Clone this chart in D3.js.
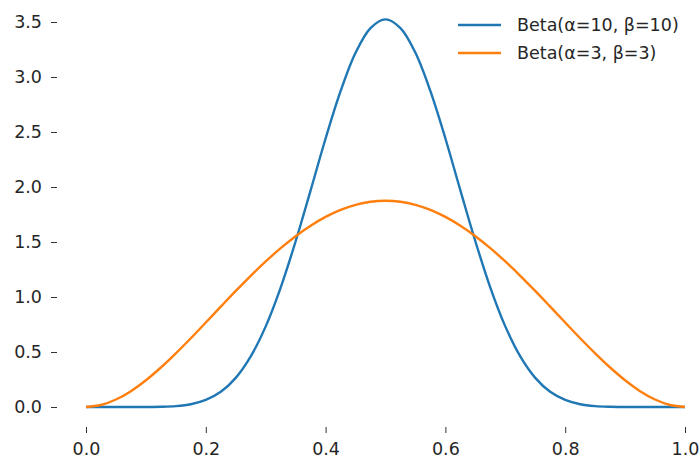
<!DOCTYPE html>
<html>
<head>
<meta charset="utf-8">
<script src="https://cdn.jsdelivr.net/npm/d3@7"></script>
<style>
  body { margin: 0; background: #fff; }
  svg text { font-family: "DejaVu Sans", sans-serif; }
</style>
</head>
<body>
<script>
var w = 700,
    h = 459;

// x positions of the sampled points
var xs = [0, 0.025, 0.05, 0.075, 0.1, 0.125, 0.15, 0.175, 0.2, 0.225, 0.25,
          0.275, 0.3, 0.325, 0.35, 0.375, 0.4, 0.425, 0.45, 0.475, 0.5,
          0.525, 0.55, 0.575, 0.6, 0.625, 0.65, 0.675, 0.7, 0.725, 0.75,
          0.775, 0.8, 0.825, 0.85, 0.875, 0.9, 0.925, 0.95, 0.975, 1];

// density, Beta(10,10)
var beta10 = [0, 0, 0, 0, 0.0004, 0.002, 0.008, 0.025, 0.064, 0.138, 0.265,
              0.46, 0.733, 1.086, 1.507, 1.97, 2.441, 2.871, 3.22, 3.445, 3.524,
              3.445, 3.22, 2.871, 2.441, 1.97, 1.507, 1.086, 0.733, 0.46, 0.265,
              0.138, 0.064, 0.025, 0.008, 0.002, 0.0004, 0, 0, 0, 0];

// density, Beta(3,3)
var beta3 = [0, 0.018, 0.068, 0.144, 0.243, 0.359, 0.488, 0.625, 0.768, 0.912, 1.055,
             1.193, 1.323, 1.444, 1.553, 1.648, 1.728, 1.792, 1.838, 1.866, 1.875,
             1.866, 1.838, 1.792, 1.728, 1.648, 1.553, 1.444, 1.323, 1.193, 1.055,
             0.912, 0.768, 0.625, 0.488, 0.359, 0.243, 0.144, 0.068, 0.018, 0];

var xTicks = [0, 0.2, 0.4, 0.6, 0.8, 1.0];
var yTicks = [0, 0.5, 1.0, 1.5, 2.0, 2.5, 3.0, 3.5];

var names = ["Beta(α=10, β=10)", "Beta(α=3, β=3)"];
var colors = ["#1f77b4", "#ff7f0e"];

var svg = d3.select("body").append("svg")
    .attr("width", w)
    .attr("height", h);

var x = d3.scaleLinear().domain([0, 1]).range([86, 685]);
var y = d3.scaleLinear().domain([0, 3.5]).range([407, 22]);

// axes: spines hidden, only ticks and labels
var xAxis = svg.append("g")
    .attr("transform", "translate(0,427)")
    .call(d3.axisBottom(x).tickValues(xTicks).tickFormat(d3.format(".1f"))
      .tickSize(6).tickPadding(10));

var yAxis = svg.append("g")
    .attr("transform", "translate(57,0)")
    .call(d3.axisLeft(y).tickValues(yTicks).tickFormat(d3.format(".1f"))
      .tickSize(6).tickPadding(9));

[xAxis, yAxis].forEach(function(g){
  g.select(".domain").remove();
  g.selectAll("line").attr("stroke", "#333").attr("stroke-width", 1);
  g.selectAll("text").attr("fill", "#262626").style("font-size", "17.5px");
});

var line = d3.line()
    .x(function(d){ return x(d[0]); })
    .y(function(d){ return y(d[1]); })
    .curve(d3.curveCatmullRom);

var series = [beta10, beta3];

svg.selectAll("path.curve")
    .data(series)
  .enter().append("path")
    .attr("class", "curve")
    .attr("fill", "none")
    .attr("stroke", function(d, i){ return colors[i]; })
    .attr("stroke-width", 2.4)
    .attr("stroke-linejoin", "round")
    .attr("d", function(d){ return line(d.map(function(v, i){ return [xs[i], v]; })); });

// legend
var legend = svg.selectAll("g.legend")
    .data(names)
  .enter().append("g")
    .attr("class", "legend")
    .attr("transform", function(d, i){ return "translate(458," + (25 + i * 28) + ")"; });

legend.append("line")
    .attr("x1", 0).attr("x2", 43)
    .attr("stroke", function(d, i){ return colors[i]; })
    .attr("stroke-width", 2.4);

legend.append("text")
    .attr("x", 59)
    .attr("dy", "0.35em")
    .attr("fill", "#262626")
    .style("font-size", "17.5px")
    .text(function(d){ return d; });
</script>
</body>
</html>
